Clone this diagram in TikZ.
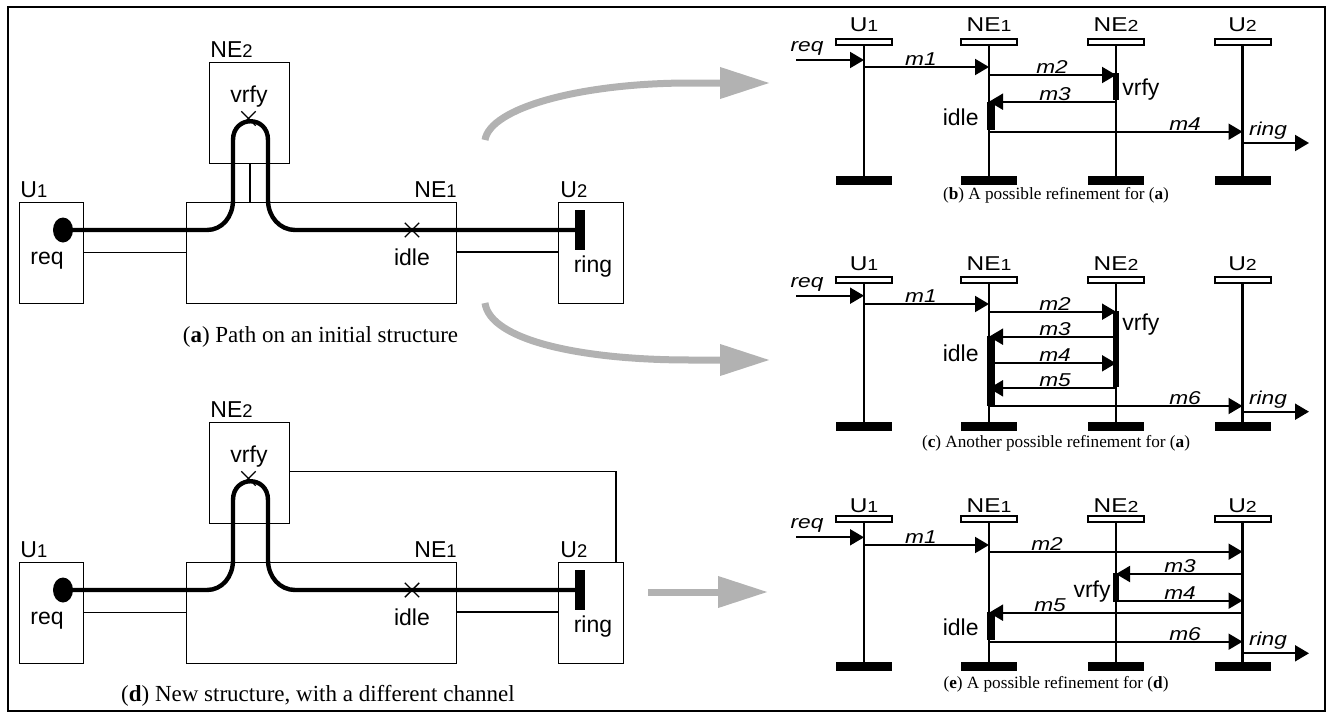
\documentclass[tikz,border=0pt]{standalone}
\usepackage{fontspec}
\usepackage{graphicx}
\setmainfont{Liberation Serif}
\newfontfamily\lsans{Liberation Sans}
\newfontfamily\lsanswide[FakeStretch=1.22]{Liberation Sans}
\usetikzlibrary{arrows.meta,shapes.geometric,shapes.misc}
\definecolor{arrowgray}{RGB}{178,178,178}
\newcommand{\ix}[1]{\scalebox{0.8}{#1}}

\tikzset{
  sbox/.style={draw,line width=0.7pt,anchor=north west,inner sep=0pt,minimum height=50.5pt},
  slabel/.style={inner sep=0pt,font=\lsans\fontsize{11.5}{13}\selectfont},
  chan/.style={line width=0.7pt},
  route/.style={line width=2.2pt},
  startdot/.style={ellipse,fill,inner sep=0pt,minimum width=10pt,minimum height=12.5pt},
  stopbar/.style={rectangle,fill,inner sep=0pt,minimum width=5pt,minimum height=20pt},
  xmark/.style={cross out,draw,line width=0.7pt,inner sep=0pt,minimum size=6.5pt},
  capbig/.style={inner sep=0pt,anchor=base,font=\fontsize{11.5}{13}\selectfont},
  capsmall/.style={inner sep=0pt,anchor=base,font=\fontsize{8.6}{10}\selectfont},
  headbox/.style={draw,line width=1pt,inner sep=0pt,minimum width=28pt,minimum height=3.3pt},
  headlabel/.style={inner sep=0pt,anchor=base,font=\lsanswide\fontsize{10}{12}\selectfont},
  endbar/.style={fill,inner sep=0pt,minimum width=28pt,minimum height=4.5pt},
  lifeline/.style={line width=1.3pt},
  msgarrow/.style={line width=1pt,-{Triangle[length=7pt,width=8pt]}},
  msglabel/.style={inner sep=0pt,anchor=base,font=\lsanswide\itshape\fontsize{9.3}{11}\selectfont},
  statelabel/.style={inner sep=0pt,font=\lsans\fontsize{11.5}{13}\selectfont},
  actbar/.style={fill,inner sep=0pt,anchor=north,minimum width=3pt},
  bigarrow/.style={draw=arrowgray,line width=3.5pt,-{Triangle[length=25pt,width=15pt]}},
}

% boxes, path and labels shared by the two structure drawings
\newcommand{\structnodes}{%
  \node[sbox,minimum width=32pt] (U1) at (19,202) {};
  \node[sbox,minimum width=135pt] (NE1) at (186,202) {};
  \node[sbox,minimum width=40pt] (NE2) at (209,62) {};
  \node[sbox,minimum width=32.5pt] (U2) at (558,202) {};
  \node[slabel,anchor=base west] (U1l) at (20,197) {U\ix{1}};
  \node[slabel,anchor=base east] (NE1l) at (457,197) {NE\ix{1}};
  \node[slabel,anchor=base west] (NE2l) at (210,57) {NE\ix{2}};
  \node[slabel,anchor=base west] (U2l) at (560,197) {U\ix{2}};
  \draw[chan] (U1.east |- 0,252.5) -- (NE1.west |- 0,252.5);
  \draw[chan] (NE1.east |- 0,252) -- (U2.west |- 0,252);
  \node[startdot] (start) at (63,230) {};
  \node[stopbar] (stop) at (580,230) {};
  \draw[route] (start.center) -- (207,230)
     .. controls (222,230) and (233,217) .. (233,200) -- (233,140)
     .. controls (233,115) and (268,115) .. (268,140) -- (268,200)
     .. controls (268,217) and (280,230) .. (295,230) -- (stop.center);
  \node[xmark] (vrfyx) at (248.5,118.5) {};
  \node[xmark] (idlex) at (412,230) {};
  \node[statelabel,anchor=base] (vrfy) at (249,102) {vrfy};
  \node[statelabel,anchor=base] (req) at (47,264) {req};
  \node[statelabel,anchor=base] (idle) at (412,265) {idle};
  \node[statelabel,anchor=base] (ring) at (593,272) {ring};
}

% #1 name, #2 x, #3 label, #4 label baseline, #5 head centre y, #6 end bar centre y
\newcommand{\seqline}[6]{%
  \node[headbox] (#1) at (#2,#5) {};
  \node[headlabel] (#1l) at (#2,#4) {#3};
  \node[endbar] (#1e) at (#2,#6) {};
  \draw[lifeline] (#1.south) -- (#1e.north);
}
% #1 name, #2 from, #3 to, #4 y, #5 label, #6 label x
\newcommand{\seqmsg}[6]{%
  \draw[msgarrow] (#2 |- 0,#4) -- (#3 |- 0,#4);
  \node[msglabel] (#1) at (#6,#4-1.5) {#5};
}

\begin{document}
\begin{tikzpicture}[x=0.5pt,y=-0.5pt]
\useasboundingbox (0,0) rectangle (1328,712);
\draw[line width=1pt] (7.5,6.7) rectangle (1325,711);

% (a) initial structure
\begin{scope}[name prefix=a]
  \structnodes
  \draw[chan] (NE2.south -| 250,0) -- (NE1.north -| 250,0);
  \node[capbig] (cap) at (320.5,342) {(\textbf{a}) Path on an initial structure};
\end{scope}

% (d) structure with the new channel
\begin{scope}[name prefix=d,shift={(0,360)}]
  \structnodes
  \draw[chan] (NE2.east |- 0,111.7) -| (U2.north -| 616,0);
  \node[capbig] (cap) at (318,341) {(\textbf{d}) New structure, with a different channel};
\end{scope}

% grey refinement arrows
\coordinate (g1s) at (485,140); \coordinate (g1e) at (770,83);
\coordinate (g2s) at (485,303); \coordinate (g2e) at (770,360);
\coordinate (g3s) at (648,592); \coordinate (g3e) at (768,592);
\draw[bigarrow] (g1s) .. controls (490,108) and (580,83) .. (690,83) -- (g1e);
\draw[bigarrow] (g2s) .. controls (490,340) and (580,360) .. (690,360) -- (g2e);
\draw[bigarrow] (g3s) -- (g3e);

% (b)
\seqline{bU1}{864}{U\ix{1}}{32}{42}{180.5}
\seqline{bNE1}{989}{NE\ix{1}}{32}{42}{180.5}
\seqline{bNE2}{1116}{NE\ix{2}}{32}{42}{180.5}
\seqline{bU2}{1242.5}{U\ix{2}}{32}{42}{180.5}
\coordinate (bin) at (796,60); \coordinate (bout) at (1309,143);
\draw[msgarrow] (bin) -- (bU1 |- bin);
\node[msglabel] (breq) at (807,51) {req};
\seqmsg{bm1}{bU1}{bNE1}{67}{m1}{921}
\seqmsg{bm2}{bNE1}{bNE2}{75}{m2}{1052}
\seqmsg{bm3}{bNE2}{bNE1}{101.7}{m3}{1055}
\seqmsg{bm4}{bNE1}{bU2}{131.7}{m4}{1185}
\draw[msgarrow] (bU2 |- bout) -- (bout);
\node[msglabel] (bring) at (1268,135) {ring};
\node[actbar,minimum height=13.5pt] (bvrfyb) at (bNE2 |- 0,73) {};
\node[actbar,minimum height=14.15pt,minimum width=3.75pt,xshift=1pt] (bidleb) at (bNE1 |- 0,101.7) {};
\node[statelabel,anchor=base west] (bvrfy) at (1122,95.5) {vrfy};
\node[statelabel,anchor=base east] (bidle) at (979,125) {idle};
\node[capsmall] (bcap) at (1056,199) {(\textbf{b}) A possible refinement for (\textbf{a})};

% (c)
\seqline{cU1}{864}{U\ix{1}}{270}{280}{426.5}
\seqline{cNE1}{989}{NE\ix{1}}{270}{280}{426.5}
\seqline{cNE2}{1116}{NE\ix{2}}{270}{280}{426.5}
\seqline{cU2}{1242.5}{U\ix{2}}{270}{280}{426.5}
\coordinate (cin) at (796,295.7); \coordinate (cout) at (1309,411.7);
\draw[msgarrow] (cin) -- (cU1 |- cin);
\node[msglabel] (creq) at (807,287) {req};
\seqmsg{cm1}{cU1}{cNE1}{304}{m1}{921}
\seqmsg{cm2}{cNE1}{cNE2}{311.7}{m2}{1055}
\seqmsg{cm3}{cNE2}{cNE1}{336.7}{m3}{1055}
\seqmsg{cm4}{cNE1}{cNE2}{363.3}{m4}{1055}
\seqmsg{cm5}{cNE2}{cNE1}{388.3}{m5}{1055}
\seqmsg{cm6}{cNE1}{cU2}{406}{m6}{1185}
\draw[msgarrow] (cU2 |- cout) -- (cout);
\node[msglabel] (cring) at (1268,404) {ring};
\node[actbar,minimum height=37.85pt] (cvrfyb) at (cNE2 |- 0,311) {};
\node[actbar,minimum height=35pt,minimum width=3.75pt,xshift=1pt] (cidleb) at (cNE1 |- 0,336) {};
\node[statelabel,anchor=base west] (cvrfy) at (1122,330) {vrfy};
\node[statelabel,anchor=base east] (cidle) at (979,361.7) {idle};
\node[capsmall] (ccap) at (1056,447) {(\textbf{c}) Another possible refinement for (\textbf{a})};

% (e)
\seqline{eU1}{864}{U\ix{1}}{512}{519}{666.7}
\seqline{eNE1}{989}{NE\ix{1}}{512}{519}{666.7}
\seqline{eNE2}{1116}{NE\ix{2}}{512}{519}{666.7}
\seqline{eU2}{1242.5}{U\ix{2}}{512}{519}{666.7}
\coordinate (ein) at (796,537.3); \coordinate (eout) at (1309,653.3);
\draw[msgarrow] (ein) -- (eU1 |- ein);
\node[msglabel] (ereq) at (807,528.5) {req};
\seqmsg{em1}{eU1}{eNE1}{545}{m1}{921}
\seqmsg{em2}{eNE1}{eU2}{551.7}{m2}{1047}
\seqmsg{em3}{eU2}{eNE2}{574}{m3}{1180}
\seqmsg{em4}{eNE2}{eU2}{600.7}{m4}{1180}
\seqmsg{em5}{eU2}{eNE1}{612.7}{m5}{1050}
\seqmsg{em6}{eNE1}{eU2}{641.7}{m6}{1185}
\draw[msgarrow] (eU2 |- eout) -- (eout);
\node[msglabel] (ering) at (1268,645.5) {ring};
\node[actbar,minimum height=14.35pt] (evrfyb) at (eNE2 |- 0,573) {};
\node[actbar,minimum height=14.15pt,minimum width=3.75pt,xshift=1pt] (eidleb) at (eNE1 |- 0,611.7) {};
\node[statelabel,anchor=base east] (evrfy) at (1111,597) {vrfy};
\node[statelabel,anchor=base east] (eidle) at (979,635) {idle};
\node[capsmall] (ecap) at (1056,688) {(\textbf{e}) A possible refinement for (\textbf{d})};
\end{tikzpicture}
\end{document}
